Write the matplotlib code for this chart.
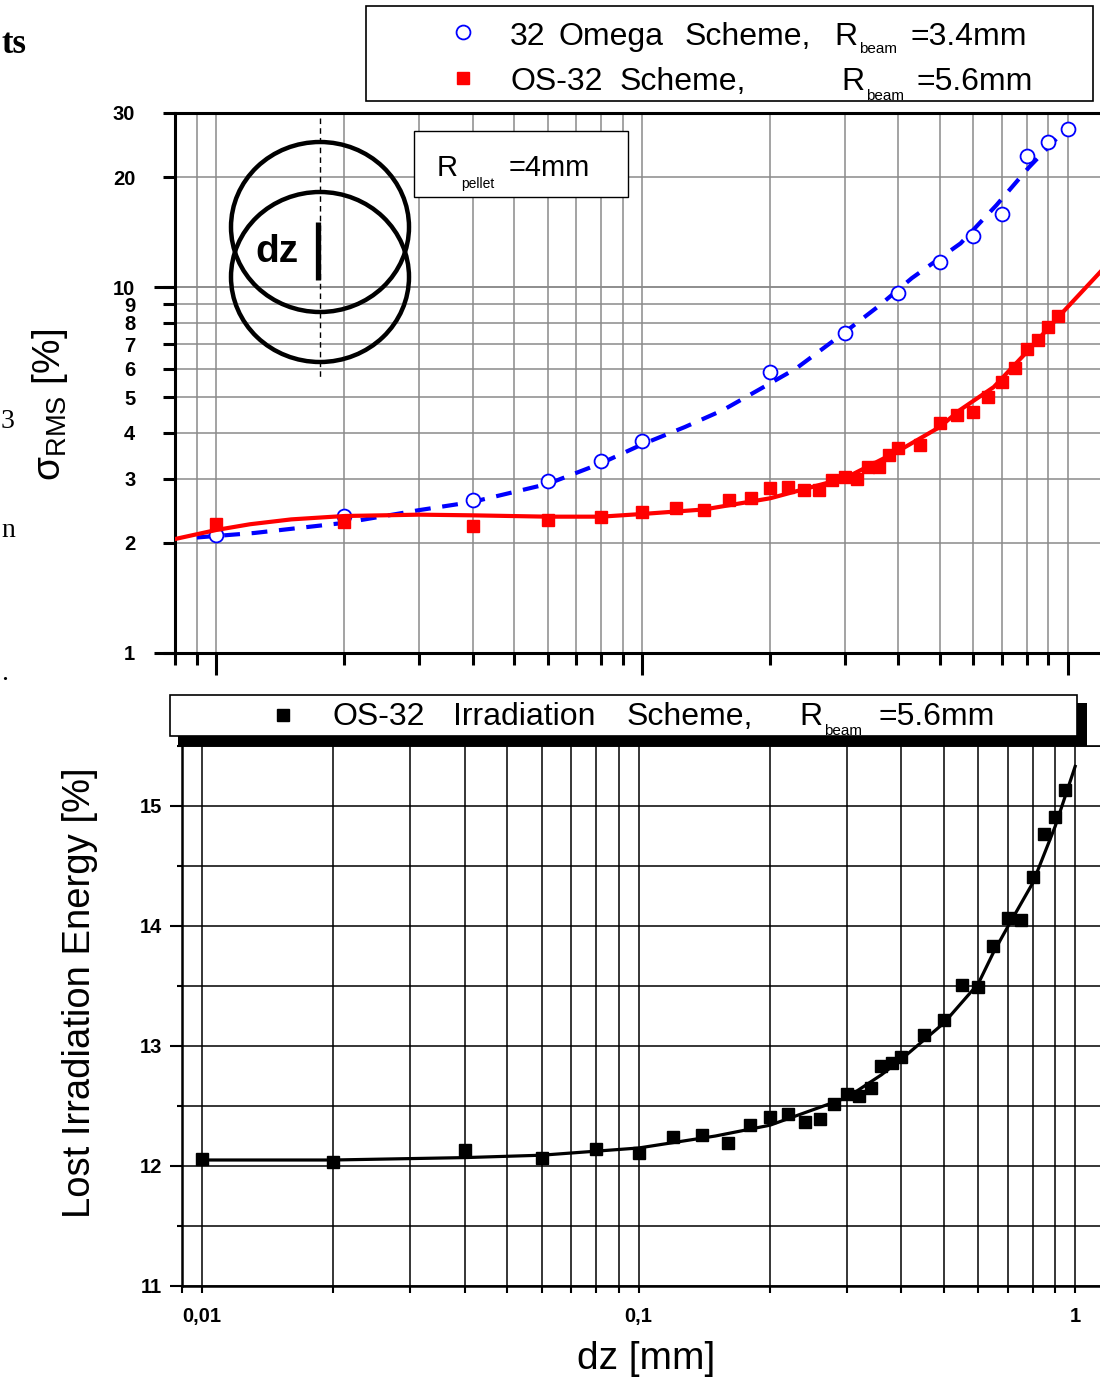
import numpy as np
import matplotlib.pyplot as plt
from matplotlib.patches import Ellipse, Rectangle
from matplotlib.lines import Line2D
from matplotlib.ticker import FixedLocator, FixedFormatter, NullFormatter

plt.rcParams['font.family'] = ['Liberation Sans', 'DejaVu Sans']
plt.rcParams['mathtext.fontset'] = 'custom'
plt.rcParams['mathtext.rm'] = 'Liberation Sans'
plt.rcParams['mathtext.it'] = 'Liberation Sans:italic'

# --- sigma_RMS, 32 Omega scheme (R_beam = 3.4 mm)
dz_omega = [0.01, 0.02, 0.04, 0.06, 0.08, 0.1, 0.2, 0.3, 0.4, 0.5, 0.6, 0.7, 0.8, 0.9, 1.0]
sig_omega = [2.10, 2.37, 2.62, 2.95, 3.35, 3.80, 5.87, 7.5, 9.66, 11.7, 13.8, 15.9, 22.9, 25.0, 27.1]
dz_omega_fit = [0.009, 0.0123, 0.02, 0.03, 0.04, 0.06, 0.08, 0.1, 0.126, 0.155, 0.193,
                0.23, 0.293, 0.36, 0.43, 0.56, 0.68, 0.81, 1.0]
sig_omega_fit = [2.07, 2.13, 2.27, 2.46, 2.59, 2.90, 3.30, 3.72, 4.15, 4.62, 5.34,
                 6.0, 7.4, 8.9, 10.6, 13.2, 16.8, 21.3, 27.5]

# --- OS-32 scheme (R_beam = 5.6 mm), same dz grid for both panels
dz_os32 = [0.01, 0.02, 0.04, 0.06, 0.08,
           0.10, 0.12, 0.14, 0.16, 0.18, 0.20, 0.22, 0.24, 0.26, 0.28, 0.30,
           0.32, 0.34, 0.36, 0.38, 0.40,
           0.45, 0.50, 0.55, 0.60, 0.65, 0.70, 0.75, 0.80, 0.85, 0.90, 0.95]
sig_os32 = [2.25, 2.28, 2.23, 2.31, 2.36,
            2.43, 2.49, 2.46, 2.62, 2.65, 2.83, 2.85, 2.79, 2.79, 2.97, 3.03,
            3.00, 3.23, 3.23, 3.48, 3.64,
            3.70, 4.26, 4.48, 4.56, 5.03, 5.50, 6.02, 6.77, 7.18, 7.77, 8.36]
dz_os32_fit = [0.008, 0.01, 0.012, 0.015, 0.02, 0.03, 0.04, 0.06, 0.08, 0.1, 0.14, 0.2,
               0.3, 0.4, 0.5, 0.558, 0.67, 0.8, 0.95, 1.19]
sig_os32_fit = [2.05, 2.17, 2.25, 2.32, 2.37, 2.39, 2.38, 2.36, 2.36, 2.40, 2.47, 2.65,
                3.01, 3.57, 4.15, 4.62, 5.34, 6.65, 8.3, 11.0]

lost_os32 = [12.06, 12.03, 12.13, 12.07, 12.14,
             12.11, 12.24, 12.26, 12.19, 12.34, 12.41, 12.43, 12.37, 12.39, 12.52, 12.60,
             12.58, 12.65, 12.83, 12.86, 12.91,
             13.09, 13.22, 13.51, 13.49, 13.83, 14.07, 14.05, 14.41, 14.77, 14.91, 15.13]
dz_lost_fit = [0.01, 0.02, 0.04, 0.06, 0.1, 0.15, 0.2, 0.3, 0.36, 0.4, 0.5, 0.6,
               0.65, 0.7, 0.8, 0.9, 1.0]
lost_fit = [12.05, 12.05, 12.07, 12.09, 12.15, 12.25, 12.34, 12.57, 12.76, 12.89,
            13.19, 13.52, 13.78, 13.99, 14.36, 14.83, 15.33]

sig_ticks = [1, 2, 3, 4, 5, 6, 7, 8, 9, 10, 20, 30]
lost_ticks = [11, 12, 13, 14, 15]
dz_major = [0.01, 0.1, 1]
dz_labels = ['0,01', '0,1', '1']
dz_minor = [0.008, 0.009] + [k * 0.01 for k in range(2, 10)] + [k * 0.1 for k in range(2, 10)]

W, H = 1100, 1378
fig = plt.figure(figsize=(W / 100, H / 100), dpi=100)


def px_axes(left, top, right, bottom):
    return fig.add_axes([left / W, 1 - bottom / H, (right - left) / W, (bottom - top) / H])


# ---------------- top panel: sigma_RMS ----------------
ax1 = px_axes(175, 113, 1100, 653)
ax1.set_xscale('log')
ax1.set_yscale('log')
ax1.set_xlim(0.008, 1.19)
ax1.set_ylim(1, 30)

ax1.plot(dz_omega_fit, sig_omega_fit, color='#0000ff', lw=3, dashes=(3.8, 2.8), zorder=3)
ax1.plot(dz_omega, sig_omega, 'o', ms=10, mfc='white', mec='#0000ff', mew=1.3, zorder=4)
ax1.plot(dz_os32_fit, sig_os32_fit, color='#ff0000', lw=3, zorder=5)
ax1.plot(dz_os32, sig_os32, 's', ms=8.5, color='#ff0000', zorder=6)

ax1.yaxis.remove_overlapping_locs = False
ax1.xaxis.remove_overlapping_locs = False
ax1.yaxis.set_major_locator(FixedLocator(sig_ticks))
ax1.yaxis.set_major_formatter(FixedFormatter([str(v) for v in sig_ticks]))
ax1.yaxis.set_minor_locator(FixedLocator([1, 10]))
ax1.yaxis.set_minor_formatter(NullFormatter())
ax1.xaxis.set_major_locator(FixedLocator(dz_major))
ax1.xaxis.set_minor_locator(FixedLocator(dz_minor))
ax1.tick_params(axis='y', which='major', direction='out', length=8.6, width=2.2, pad=20,
                labelsize=14.5)
ax1.tick_params(axis='y', which='minor', direction='out', length=15, width=2.2)
ax1.tick_params(axis='x', which='major', direction='out', length=16, width=2.2,
                labelbottom=False)
ax1.tick_params(axis='x', which='minor', direction='out', length=8.6, width=2.2)
for lab in ax1.get_yticklabels():
    lab.set_fontweight('bold')
ax1.grid(which='both', color='#8a8a8a', lw=1.1)
ax1.set_axisbelow(True)
for side in ['left', 'bottom', 'top']:
    ax1.spines[side].set_linewidth(2.2)
ax1.spines['right'].set_visible(False)

# ---------------- bottom panel: lost irradiation energy ----------------
ax2 = px_axes(182, 746, 1100, 1286)
ax2.set_xscale('log')
ax2.set_xlim(0.009, 1.14)
ax2.set_ylim(11, 15.5)

ax2.plot(dz_lost_fit, lost_fit, color='black', lw=2.3, zorder=3)
ax2.plot(dz_os32, lost_os32, 's', ms=8, color='black', zorder=4)

ax2.xaxis.set_major_locator(FixedLocator(dz_major))
ax2.xaxis.set_major_formatter(FixedFormatter(dz_labels))
ax2.xaxis.set_minor_locator(FixedLocator(dz_minor[1:]))
ax2.xaxis.set_minor_formatter(NullFormatter())
ax2.yaxis.set_major_locator(FixedLocator(lost_ticks))
ax2.yaxis.set_minor_locator(FixedLocator([11.5, 12.5, 13.5, 14.5, 15.5]))
ax2.tick_params(axis='x', which='both', direction='out', length=5, width=1.5, pad=10,
                labelsize=14.5)
ax2.tick_params(axis='y', which='major', direction='out', length=8.6, width=1.5, pad=6,
                labelsize=14.5)
ax2.tick_params(axis='y', which='minor', direction='out', length=3.6, width=1.5)
for lab in ax2.get_xticklabels() + ax2.get_yticklabels():
    lab.set_fontweight('bold')
ax2.grid(which='both', color='black', lw=1.1)
ax2.set_axisbelow(True)
for side in ['left', 'bottom']:
    ax2.spines[side].set_linewidth(1.8)
ax2.spines['right'].set_visible(False)
ax2.spines['top'].set_linewidth(1.2)

# ---------------- overlay in pixel coordinates ----------------
ov = fig.add_axes([0, 0, 1, 1], zorder=10)
ov.set_xlim(0, W)
ov.set_ylim(H, 0)
ov.axis('off')


def put(x, y, s, size, **kw):
    ov.text(x, y, s, fontsize=size, ha='left', va='baseline', **kw)


# pellet offset sketch
for cy in (227, 277):
    ov.add_patch(Ellipse((320, cy), 178, 170, fill=False, ec='black', lw=3.2))
ov.plot([320, 320], [118, 378], color='black', lw=1, dashes=(4, 3))
ov.plot([318, 318], [222, 280], color='black', lw=3.8, solid_capstyle='butt')
put(255, 262, 'dz', 28, fontweight='bold')

# R_pellet box
ov.add_patch(Rectangle((414, 131), 214, 66, fc='white', ec='black', lw=1))
put(437, 176, 'R', 21)
put(461, 188, 'pellet', 10)
put(509, 176, '=4mm', 21)

# top legend
ov.add_patch(Rectangle((366, 6), 727, 95, fc='white', ec='black', lw=1.2))
ov.add_line(Line2D([463], [32], marker='o', ms=10, mfc='white', mec='#0000ff', mew=1.3))
ov.add_line(Line2D([463], [78], marker='s', ms=8.5, color='#ff0000'))
for x, s in [(510, '32'), (559, 'Omega'), (685, 'Scheme,'), (834, 'R'), (910, '=3.4mm')]:
    put(x, 45, s, 23)
put(859, 53, 'beam', 11)
for x, s in [(510, 'OS-32'), (620, 'Scheme,'), (841, 'R'), (917, '=5.6mm')]:
    put(x, 90, s, 23)
put(866, 100, 'beam', 11)

# bottom legend with drop shadow
ov.add_patch(Rectangle((178, 703), 909, 43, fc='black', ec='none'))
ov.add_patch(Rectangle((170, 695), 907, 41, fc='white', ec='black', lw=1.2))
ov.add_line(Line2D([283], [715], marker='s', ms=8, color='black'))
for x, s in [(332, 'OS-32'), (453, 'Irradiation'), (627, 'Scheme,'), (799, 'R'),
             (878, '=5.6mm')]:
    put(x, 725, s, 23)
put(824, 735, 'beam', 11)

# axis titles
ov.text(50, 405, 'σ$_{\\mathregular{RMS}}$ [%]', fontsize=28, rotation=90,
        ha='center', va='center')
ov.text(80, 993, 'Lost Irradiation Energy [%]', fontsize=27.5, rotation=90,
        ha='center', va='center')
ov.text(646, 1369, 'dz [mm]', fontsize=28, ha='center', va='baseline')

# clipped text from the surrounding page
serif = ['Liberation Serif', 'DejaVu Serif']
put(1, 53, 'ts', 25, fontweight='bold', family=serif)
put(1, 428, '3', 20, family=serif)
put(1, 537, 'n', 20, family=serif)
put(1, 680, '.', 20, family=serif)

fig.savefig('out.png', dpi=100)
